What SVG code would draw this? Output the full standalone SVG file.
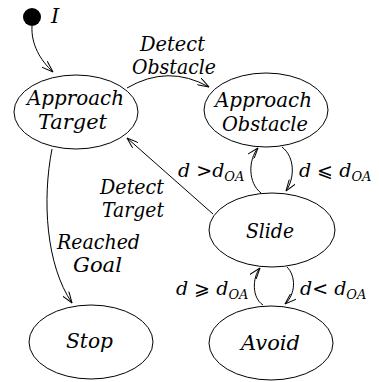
<svg xmlns="http://www.w3.org/2000/svg" width="379" height="382" viewBox="0 0 379 382">
  <style>
    .state { fill: #ffffff; stroke: #000000; stroke-width: 1; }
    text { fill: #000000; font-style: italic; font-family: "DejaVu Serif", "Liberation Serif", serif; }
    .name { font-size: 21px; }
    .lbl { font-size: 20px; }
    .math { font-size: 19px; }
    .op { font-style: normal; }
    .sub { font-size: 13px; }
    .edge { fill: none; stroke: #000000; stroke-width: 1; marker-end: url(#open); }
  </style>
  <defs>
    <marker id="open" viewBox="0 0 12 8" refX="11.5" refY="4" markerWidth="12" markerHeight="8" markerUnits="userSpaceOnUse" orient="auto">
      <path d="M0,0 L11.5,4 L0,8" fill="none" stroke="#000000" stroke-width="1"/>
    </marker>
  </defs>
  <rect width="379" height="382" fill="#ffffff"/>

  <g id="connectors">
    <!-- initial pseudo-state into Approach Target -->
    <path class="edge" d="M 32 26 C 31 44 40 60 53 72"/>
    <!-- Approach Target to Approach Obstacle -->
    <path class="edge" d="M 127 88 Q 168 64 209 87"/>
    <!-- Slide back to Approach Target -->
    <path class="edge" d="M 213 214 L 127 138"/>
    <!-- Approach Target to Stop -->
    <path class="edge" d="M 52 149 C 42 200 46 265 72 303"/>
    <!-- Slide up to Approach Obstacle -->
    <path class="edge" d="M 261 193 C 248 183 248 160 258 148"/>
    <!-- Approach Obstacle down to Slide -->
    <path class="edge" d="M 282 147 C 295 157 295 178 286 191"/>
    <!-- Avoid up to Slide -->
    <path class="edge" d="M 263 305 C 252 298 252 278 260 268"/>
    <!-- Slide down to Avoid -->
    <path class="edge" d="M 287 267 C 296 276 296 294 285 304"/>
  </g>

  <g id="initial">
    <circle cx="32" cy="17" r="9" fill="#000000"/>
    <text class="name" x="51" y="23">I</text>
  </g>

  <g id="approach-target">
    <ellipse class="state" cx="76" cy="112" rx="62" ry="37"/>
    <text class="name" x="27" y="105" textLength="97" lengthAdjust="spacingAndGlyphs">Approach</text>
    <text class="name" x="38" y="129" textLength="69" lengthAdjust="spacingAndGlyphs">Target</text>
  </g>

  <g id="approach-obstacle">
    <ellipse class="state" cx="266" cy="110" rx="62" ry="37"/>
    <text class="name" x="215" y="107" textLength="97" lengthAdjust="spacingAndGlyphs">Approach</text>
    <text class="name" x="222" y="131" textLength="86" lengthAdjust="spacingAndGlyphs">Obstacle</text>
  </g>

  <g id="slide">
    <ellipse class="state" cx="272" cy="230" rx="63" ry="37"/>
    <text class="name" x="246" y="238" textLength="48" lengthAdjust="spacingAndGlyphs">Slide</text>
  </g>

  <g id="stop">
    <ellipse class="state" cx="91" cy="342" rx="62" ry="37"/>
    <text class="name" x="66" y="348" textLength="47" lengthAdjust="spacingAndGlyphs">Stop</text>
  </g>

  <g id="avoid">
    <ellipse class="state" cx="271" cy="343" rx="62" ry="37"/>
    <text class="name" x="241" y="350" textLength="59" lengthAdjust="spacingAndGlyphs">Avoid</text>
  </g>

  <g id="labels">
    <text class="lbl" x="140" y="51" textLength="65" lengthAdjust="spacingAndGlyphs">Detect</text>
    <text class="lbl" x="132" y="74" textLength="84" lengthAdjust="spacingAndGlyphs">Obstacle</text>
    <text class="lbl" x="100" y="194" textLength="64" lengthAdjust="spacingAndGlyphs">Detect</text>
    <text class="lbl" x="102" y="217" textLength="62" lengthAdjust="spacingAndGlyphs">Target</text>
    <text class="lbl" x="57" y="249" textLength="83" lengthAdjust="spacingAndGlyphs">Reached</text>
    <text class="lbl" x="73" y="272" textLength="49" lengthAdjust="spacingAndGlyphs">Goal</text>
    <text class="math" x="178" y="177">d <tspan class="op">&gt;</tspan>d<tspan class="sub" dy="4">OA</tspan></text>
    <text class="math" x="299" y="177">d <tspan class="op">⩽</tspan> d<tspan class="sub" dy="4">OA</tspan></text>
    <text class="math" x="176" y="295">d <tspan class="op">⩾</tspan> d<tspan class="sub" dy="4">OA</tspan></text>
    <text class="math" x="300" y="295">d<tspan class="op">&lt;</tspan> d<tspan class="sub" dy="4">OA</tspan></text>
  </g>
</svg>
